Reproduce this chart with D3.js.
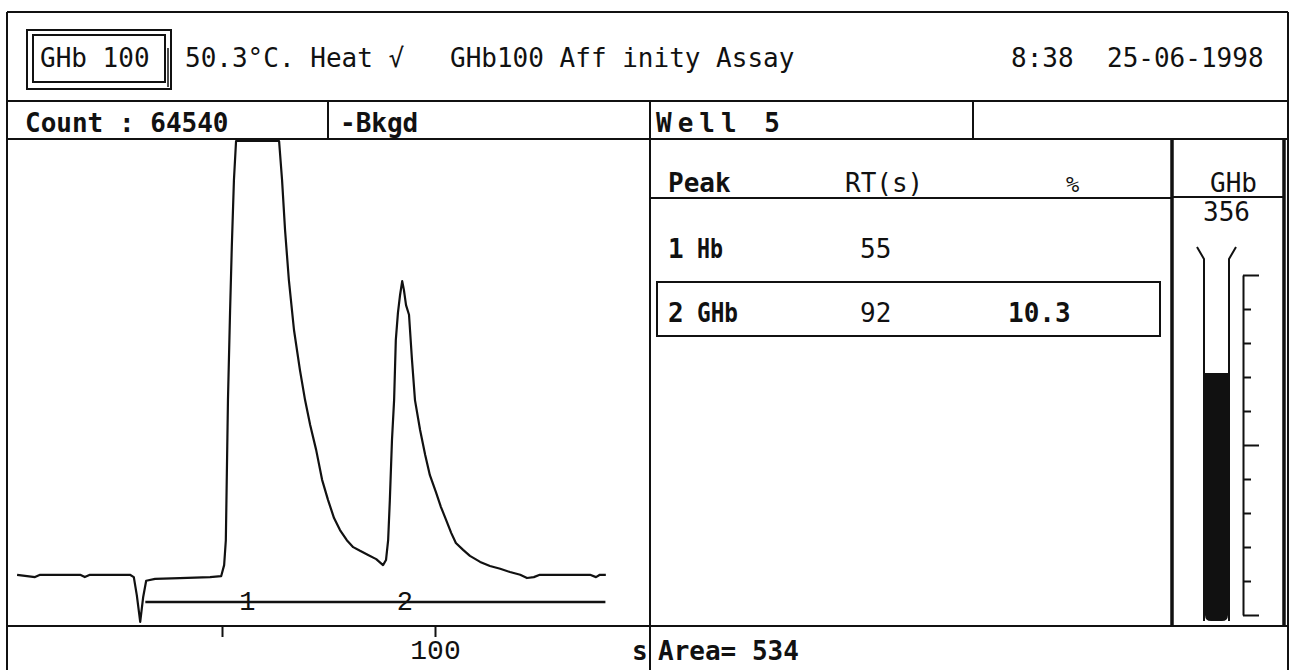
<!DOCTYPE html>
<html><head><meta charset="utf-8">
<script src="https://cdn.jsdelivr.net/npm/d3@7"></script>
<style>
html,body{margin:0;padding:0;background:#fff;}
svg text{font-family:"DejaVu Sans Mono","Liberation Mono",monospace;fill:#111;}
</style></head><body><svg id="c" width="1295" height="670"></svg>
<script>
// ---- data ----
const traceTime = [1.9,6.1,7.3,16.7,17.8,19.0,28.4,29.3,30.0,30.8,31.5,32.2,34.3,40.1,47.2,49.8,50.5,50.9,51.4,51.9,52.3,52.8,53.3,63.4,64.1,64.8,65.7,66.9,68.3,69.5,70.7,72.1,73.5,74.9,76.3,77.7,79.3,80.8,82.4,84.3,86.2,87.8,88.5,89.0,89.4,89.9,90.4,90.8,91.3,91.8,92.3,92.7,93.2,93.9,94.6,95.3,96.5,97.7,98.8,100.2,101.4,102.6,103.8,104.9,106.6,108.2,110.6,112.9,115.3,117.6,120.0,121.6,123.2,124.6,129.3,136.4,137.8,138.7,140.1];
const traceSignal = [5.9,5.4,5.9,5.9,5.4,5.9,5.9,5.4,1.5,-4.3,1.1,4.6,5.0,5.2,5.4,5.6,8.0,13.4,43.8,63.3,77.0,91.5,100,100,91.5,80.7,69.8,59.0,50.3,43.8,38.4,33.0,26.5,22.1,18.2,15.6,13.4,11.9,11.1,10.2,9.3,8.0,9.1,13.4,22.1,35.1,43.8,56.8,62.7,66.6,69.6,67.7,64.4,62.3,52.5,43.8,37.3,31.9,27.5,23.9,20.6,17.8,15.0,12.8,11.3,10.0,8.7,7.8,7.2,6.5,5.9,5.2,5.4,5.9,5.9,5.9,5.4,5.9,5.9];
const baselineSpan = [32, 140];
const peakNumbers = [1, 2];
const peakNames = ["Hb", "GHb"];
const peakRT = [55, 92];
const peakPercent = ["", "10.3"];
const xTickValues = [50, 100];
const xTickLabels = ["", "100"];
const gaugeValue = 356;
const gaugeTicks = [0,50,100,150,200,250,300,350,400,450,500];

// ---- drawing ----
const svg = d3.select("#c");
svg.append("rect").attr("width",1295).attr("height",670).attr("fill","#fff");
const ink = "#111";

function hline(x1,x2,y,w){svg.append("line").attr("x1",x1).attr("x2",x2).attr("y1",y).attr("y2",y).attr("stroke",ink).attr("stroke-width",w||2);}
function vline(x,y1,y2,w){svg.append("line").attr("x1",x).attr("x2",x).attr("y1",y1).attr("y2",y2).attr("stroke",ink).attr("stroke-width",w||2);}
function txt(s,x,y,opt){opt=opt||{};const t=svg.append("text").attr("x",x).attr("y",y).text(s)
  .style("font-size",(opt.size||26)+"px").style("font-weight",opt.bold?"bold":"normal");
  if(opt.family) t.style("font-family",opt.family);
  if(opt.anchor) t.attr("text-anchor",opt.anchor);
  if(opt.len) t.attr("textLength",opt.len).attr("lengthAdjust",opt.adj||"spacingAndGlyphs");
  t.attr("xml:space","preserve");
  return t;}

// frame
hline(7,1288,12); vline(7,12,670); vline(1288,12,670);
hline(7,1288,101); hline(7,1288,139); hline(7,1288,626);
vline(328,101,139); vline(650,101,670); vline(973,101,139);

// header
svg.append("rect").attr("x",27).attr("y",30).attr("width",144).attr("height",59).attr("fill","none").attr("stroke",ink).attr("stroke-width",2);
svg.append("rect").attr("x",33).attr("y",35).attr("width",132).attr("height",47).attr("fill","none").attr("stroke",ink).attr("stroke-width",2);
vline(168,48,87,1.5);
txt("GHb 100",40,67);
txt("50.3°C. Heat √",185,67);
txt("GHb100 Aff inity Assay",450,67);
txt("8:38",1011,67);
txt("25-06-1998",1107,67);

txt("Count : 64540",25,132,{bold:true});
txt("-Bkgd",340,132,{bold:true});
txt("Well 5",656,132,{bold:true,len:124,adj:"spacing"});

// chromatogram
const x = d3.scaleLinear().domain([0,150]).range([9,648]);
const y = d3.scaleLinear().domain([0,100]).range([602,141]);
const pts = traceTime.map((t,i)=>[t,traceSignal[i]]);
svg.append("path").datum(pts).attr("fill","none").attr("stroke",ink).attr("stroke-width",2.2)
  .attr("stroke-linejoin","round")
  .attr("d",d3.line().x(d=>x(d[0])).y(d=>y(d[1])));
svg.append("line").attr("x1",x(baselineSpan[0])).attr("x2",x(baselineSpan[1]))
  .attr("y1",y(0)).attr("y2",y(0)).attr("stroke",ink).attr("stroke-width",2.5);
peakRT.forEach((rt,i)=>{
  txt(String(peakNumbers[i]),x(rt)+4,y(0)+8,{size:27,family:"'Liberation Mono',monospace",anchor:"middle"});
});

const ax = svg.append("g").attr("transform","translate(0,626)")
  .call(d3.axisBottom(x).tickValues(xTickValues).tickSize(11).tickFormat((d,i)=>xTickLabels[i]));
ax.select(".domain").remove();
ax.selectAll(".tick line").attr("stroke",ink).attr("stroke-width",2);
ax.selectAll(".tick text").attr("y",33).attr("dy",0).attr("fill",ink)
  .style("font-family","'Liberation Mono',monospace").style("font-size","28px");
txt("s",632,660,{bold:true});

// peak table
hline(650,1172,198);
txt("Peak",668,192,{bold:true});
txt("RT(s)",845,192);
txt("%",1066,192,{size:22});
peakRT.forEach((rt,i)=>{
  const yy = [258,322][i];
  txt(String(peakNumbers[i]),668,yy,{bold:true});
  txt(peakNames[i],697,yy,{bold:true,len:peakNames[i].length===2?26:41});
  txt(String(rt),860,yy);
  if(peakPercent[i]) txt(peakPercent[i],1008,yy,{bold:true});
});
svg.append("rect").attr("x",657).attr("y",282).attr("width",503).attr("height",54)
  .attr("fill","none").attr("stroke",ink).attr("stroke-width",2);

// gauge column
vline(1172,139,626,3.5); vline(1284,139,626,3.5);
hline(1172,1284,197);
txt("GHb",1210,192);
txt(String(gaugeValue),1203,221);
const gy = d3.scaleLinear().domain([0,500]).range([615,275]);
const fillTop = gy(gaugeValue), fillBot = 621;
svg.append("path").attr("fill",ink)
  .attr("d",`M1205,${fillTop}V${fillBot-6}Q1205,${fillBot} 1211,${fillBot}H1222Q1228,${fillBot} 1228,${fillBot-6}V${fillTop}Z`);
svg.append("path").attr("fill","none").attr("stroke",ink).attr("stroke-width",2)
  .attr("d","M1197,247L1204,259V621M1236,247L1229,259V621");
const gax = svg.append("g").attr("transform","translate(1243,0)")
  .call(d3.axisRight(gy).tickValues(gaugeTicks).tickSize(8).tickSizeOuter(0).tickFormat(""));
gax.select(".domain").attr("stroke",ink).attr("stroke-width",2);
gax.selectAll(".tick line").attr("stroke",ink).attr("stroke-width",2)
  .attr("x2",d=>d%250===0?16:8);

// bottom row
txt("Area= 534",658,660,{bold:true});
</script></body></html>
